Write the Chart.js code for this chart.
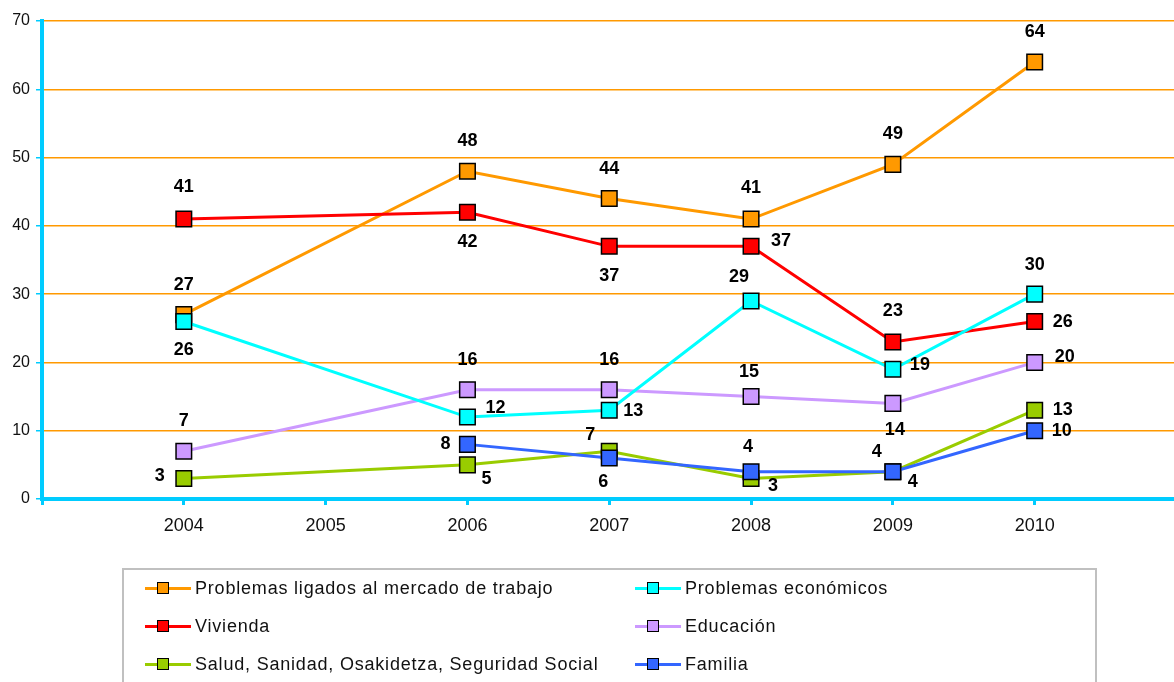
<!DOCTYPE html>
<html>
<head>
<meta charset="utf-8">
<script src="https://cdn.jsdelivr.net/npm/chart.js@4.4.0/dist/chart.umd.min.js"></script>
<style>
  body { margin: 0; background: #fff; font-family: "Liberation Sans", Arial, sans-serif; }
  #wrap { position: relative; width: 1174px; height: 682px; overflow: hidden; }
  canvas { display: block; }
  #legend { position: absolute; left: 122px; top: 568px; width: 971px; height: 200px;
            border: 2px solid #c0c0c0; }
  .item { position: absolute; height: 20px; display: flex; align-items: center;
          font-size: 18px; letter-spacing: 0.8px; color: #111; white-space: nowrap; }
  .mk { position: relative; width: 46px; height: 3px; margin-right: 4px; }
  .mk span { position: absolute; left: 12px; top: -5px; width: 12px; height: 12px;
             border: 1px solid #000; box-sizing: border-box; }
</style>
</head>
<body>
<div id="wrap">
  <canvas id="myChart" width="1189" height="682"></canvas>
  <div id="legend"></div>
</div>
<script>
const years = ["", "2004", "2005", "2006", "2007", "2008", "2009", "2010", ""];
const yTicks = [0, 10, 20, 30, 40, 50, 60, 70];

const seriesNames = [
  "Problemas ligados al mercado de trabajo",
  "Problemas económicos",
  "Vivienda",
  "Educación",
  "Salud, Sanidad, Osakidetza, Seguridad Social",
  "Familia"
];
const trabajo    = [null, 27, null, 48, 44, 41, 49, 64, null];
const economicos = [null, 26, null, 12, 13, 29, 19, 30, null];
const vivienda   = [null, 41, null, 42, 37, 37, 23, 26, null];
const educacion  = [null, 7,  null, 16, 16, 15, 14, 20, null];
const salud      = [null, 3,  null, 5,  7,  3,  4,  13, null];
const familia    = [null, null, null, 8, 6, 4,  4,  10, null];

const lineColors = ["#ff9900", "#00ffff", "#ff0000", "#cc99ff", "#99cc00", "#3366ff"];
const drawOrder = [5, 2, 3, 4, 6, 1];

// where each value label sits relative to its point [dx, dy]
const labelShift = [
  [null, [0,-30], null, [0,-30], [0,-30], [0,-31], [0,-30], [0,-30], null],
  [null, [0,29], null, [28,-9], [24,1], [-12,-24], [27,-4], [0,-29], null],
  [null, [0,-32], null, [0,30], [0,30], [30,-5], [0,-31], [28,1], null],
  [null, [0,-30], null, [0,-30], [0,-30], [-2,-25], [2,27], [30,-5], null],
  [null, [-24,-2], null, [19,14], [-19,-16], [22,8], [-16,-20], [28,0], null],
  [null, null, null, [-22,0], [-6,24], [-3,-25], [20,10], [27,0], null]
];

const seriesData = [trabajo, economicos, vivienda, educacion, salud, familia];

const valueLabels = {
  id: "valueLabels",
  afterDatasetsDraw(chart) {
    const ctx = chart.ctx;
    ctx.save();
    ctx.font = "bold 18px 'Liberation Sans', Arial, sans-serif";
    ctx.fillStyle = "#000";
    ctx.textAlign = "center";
    ctx.textBaseline = "middle";
    chart.data.datasets.forEach((ds, i) => {
      const meta = chart.getDatasetMeta(i);
      meta.data.forEach((pt, j) => {
        const v = ds.data[j];
        const s = labelShift[i][j];
        if (v === null || !s) return;
        ctx.fillText(String(v), pt.x + s[0], pt.y + s[1]);
      });
    });
    ctx.restore();
  }
};

new Chart("myChart", {
  type: "line",
  data: {
    labels: years,
    datasets: seriesData.map((d, i) => ({
      label: seriesNames[i],
      data: d,
      borderColor: lineColors[i],
      backgroundColor: lineColors[i],
      borderWidth: 3,
      pointStyle: "rect",
      pointRadius: 11,
      pointHoverRadius: 11,
      pointBorderColor: "#000",
      pointBorderWidth: 1.5,
      spanGaps: true,
      tension: 0,
      order: drawOrder[i]
    }))
  },
  options: {
    responsive: false,
    animation: false,
    layout: { padding: { top: 21, right: 0, left: 0, bottom: 114 } },
    plugins: { legend: { display: false }, tooltip: { enabled: false } },
    scales: {
      x: {
        offset: false,
        afterFit(scale) { scale.height = 69; },
        border: { color: "#00ccff", width: 4 },
        grid: { drawOnChartArea: false, tickColor: "#00ccff", tickLength: 6, lineWidth: 3 },
        ticks: { color: "#111", padding: 10, maxRotation: 0, autoSkip: false,
                 font: { size: 18, family: "'Liberation Sans', Arial, sans-serif" } }
      },
      y: {
        min: 0, max: 70,
        afterFit(scale) { scale.width = 42; },
        afterBuildTicks(scale) { scale.ticks = yTicks.map(v => ({ value: v })); },
        border: { color: "#00ccff", width: 4 },
        grid: { color: "#ff9900", lineWidth: 1.5, tickColor: "#00ccff", tickLength: 6 },
        ticks: { color: "#111", padding: 6,
                 font: { size: 16, family: "'Liberation Sans', Arial, sans-serif" } }
      }
    }
  },
  plugins: [valueLabels]
});

// legend in two columns, like the original
const legend = document.getElementById("legend");
seriesNames.forEach((name, i) => {
  const el = document.createElement("div");
  el.className = "item";
  el.style.left = (i % 2 === 0 ? 21 : 511) + "px";
  el.style.top = (8 + Math.floor(i / 2) * 38) + "px";
  el.innerHTML = '<div class="mk" style="background:' + lineColors[i] + '"><span style="background:' +
    lineColors[i] + '"></span></div>' + name;
  legend.appendChild(el);
});
</script>
</body>
</html>
